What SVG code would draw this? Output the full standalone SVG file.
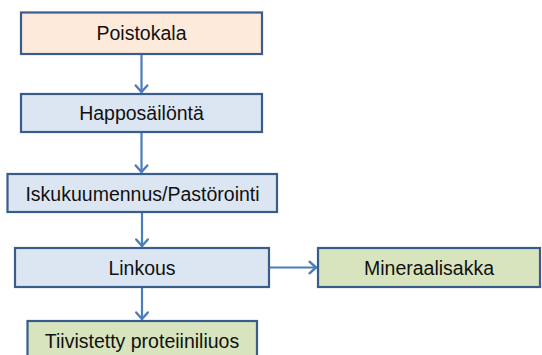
<svg xmlns="http://www.w3.org/2000/svg" width="542" height="355" viewBox="0 0 542 355">
  <style>
    .box { stroke: #385D8A; stroke-width: 2.2; }
    .peach { fill: #FDEADA; }
    .blue { fill: #DCE6F2; }
    .green { fill: #D7E4BD; }
    .label { font-family: "Liberation Sans", Arial, sans-serif; font-size: 19.5px; fill: #111; text-anchor: middle; }
    .flow { stroke: #4A7EBB; stroke-width: 2.2; fill: none; marker-end: url(#head); }
  </style>
  <defs>
    <!-- open chevron arrowhead shared by all flow lines -->
    <marker id="head" markerUnits="userSpaceOnUse" markerWidth="16" markerHeight="16" viewBox="0 0 16 16" refX="10" refY="8" orient="auto">
      <path d="M3,2.2 L9.5,8 L3,13.8" fill="none" stroke="#4A7EBB" stroke-width="2.4" stroke-linecap="round" stroke-linejoin="round"/>
    </marker>
  </defs>
  <rect width="542" height="355" fill="#FFFFFF"/>

  <g id="connectors">
    <path class="flow" d="M141.5,55 V92.5"/>
    <path class="flow" d="M141.5,133 V172.5"/>
    <path class="flow" d="M142,213 V246.5"/>
    <path class="flow" d="M142,288 V319.5"/>
    <path class="flow" d="M270,267.5 H316.5"/>
  </g>

  <g id="poistokala">
    <rect class="box peach" x="21" y="12.5" width="241" height="41.5"/>
    <text class="label" x="141.5" y="39.5">Poistokala</text>
  </g>
  <g id="happosailonta">
    <rect class="box blue" x="21" y="94" width="241" height="38"/>
    <text class="label" x="141.5" y="119.5">Happosäilöntä</text>
  </g>
  <g id="iskukuumennus">
    <rect class="box blue" x="7.5" y="174" width="269.5" height="38"/>
    <text class="label" x="142.5" y="200.5">Iskukuumennus/Pastörointi</text>
  </g>
  <g id="linkous">
    <rect class="box blue" x="15" y="248" width="254" height="39"/>
    <text class="label" x="142" y="274.5">Linkous</text>
  </g>
  <g id="mineraalisakka">
    <rect class="box green" x="318" y="248" width="222" height="39"/>
    <text class="label" x="429" y="274.5">Mineraalisakka</text>
  </g>
  <g id="tiivistetty">
    <rect class="box green" x="27.5" y="321" width="229.5" height="40"/>
    <text class="label" x="142" y="347.5">Tiivistetty proteiiniliuos</text>
  </g>
</svg>
